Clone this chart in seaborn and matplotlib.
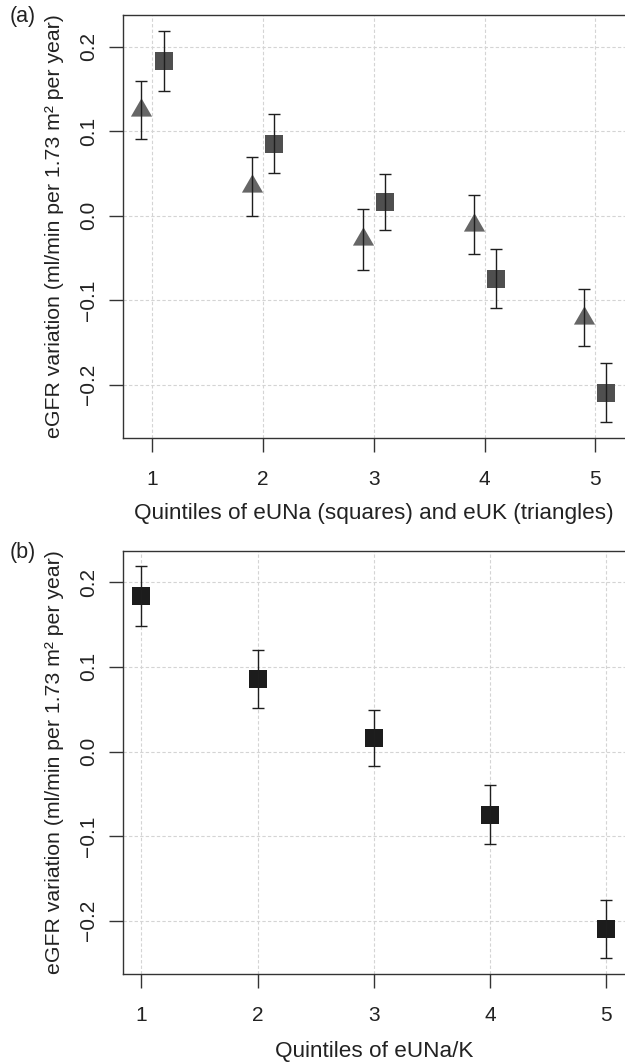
import numpy as np
import pandas as pd
import matplotlib
matplotlib.use("Agg")
import matplotlib.pyplot as plt
from matplotlib.path import Path
import seaborn as sns

# Values (mean and 95% CI of eGFR slope)
quintiles = [1, 2, 3, 4, 5]
una_lo = [0.148, 0.051, -0.017, -0.109, -0.2445]
una_hi = [0.219, 0.120, 0.049, -0.040, -0.175]
uk_lo = [0.091, 0.000, -0.064, -0.045, -0.1546]
uk_hi = [0.160, 0.070, 0.0076, 0.024, -0.087]
ratio_lo = [0.148, 0.051, -0.017, -0.109, -0.2445]
ratio_hi = [0.219, 0.120, 0.049, -0.040, -0.175]
ytick_vals = [-0.2, -0.1, 0.0, 0.1, 0.2]
ytick_labels = ["\u22120.2", "\u22120.1", "0.0", "0.1", "0.2"]

ylab = "eGFR variation (ml/min per 1.73 m\u00b2 per year)"

sns.set_style("white")
plt.rcParams["font.family"] = ["Liberation Sans", "DejaVu Sans"]


def frame(lo, hi, x):
    d = pd.DataFrame({"x": x, "lo": lo, "hi": hi})
    d["mid"] = (d["lo"] + d["hi"]) / 2
    d["err"] = (d["hi"] - d["lo"]) / 2
    return d


q = np.array(quintiles, dtype=float)
df_una = frame(una_lo, una_hi, q + 0.1)
df_uk = frame(uk_lo, uk_hi, q - 0.1)
df_ratio = frame(ratio_lo, ratio_hi, q)

tri = Path([(0, 1), (-0.866, -0.5), (0.866, -0.5), (0, 1)],
           [Path.MOVETO, Path.LINETO, Path.LINETO, Path.CLOSEPOLY])

W, H = 625, 1063
fig = plt.figure(figsize=(W / 100, H / 100), dpi=100)
left = 122.8
ax_a = fig.add_axes([left / W, 1 - 437.7 / H, 1 - left / W, (437.7 - 15.3) / H])
ax_b = fig.add_axes([left / W, 1 - 974 / H, 1 - left / W, (974 - 550.7) / H])


def points(ax, d, marker, size, color):
    sns.scatterplot(data=d, x="x", y="mid", marker=marker, s=size, color=color,
                    linewidth=0, ax=ax, zorder=3)
    ax.errorbar(d["x"], d["mid"], yerr=d["err"], fmt="none", ecolor="#1e1e1e",
                elinewidth=1.0, capsize=4, capthick=1.0, zorder=4)


points(ax_a, df_uk, tri, 310, "#666666")
points(ax_a, df_una, "s", 150, "#4f4f4f")
points(ax_b, df_ratio, "s", 150, "#1c1c1c")

for ax, xl, lab, ypos in [
    (ax_a, (0.732, 5.268), "Quintiles of eUNa (squares) and eUK (triangles)", -0.179),
    (ax_b, (0.84, 5.16), "Quintiles of eUNa/K", -0.1836),
]:
    ax.set_xlim(*xl)
    ax.set_ylim(-0.263, 0.2374)
    ax.set_xticks(quintiles)
    ax.set_xticklabels([str(v) for v in quintiles])
    ax.set_yticks(ytick_vals)
    ax.set_yticklabels(ytick_labels, rotation=90, va="center")
    ax.grid(True, color="#d4d4d4", linestyle=(0, (3, 2)), linewidth=0.8)
    ax.set_axisbelow(True)
    for s in ["left", "top", "bottom"]:
        ax.spines[s].set_color("#333333")
        ax.spines[s].set_linewidth(1.0)
    ax.spines["right"].set_visible(False)
    ax.tick_params(axis="both", direction="out", length=10, width=1.0,
                   color="#333333", labelsize=15, labelcolor="#222222")
    ax.tick_params(axis="y", pad=8, left=True)
    ax.tick_params(axis="x", pad=13, bottom=True)
    ax.set_xlabel(lab, fontsize=16.2, color="#222222", va="center")
    ax.xaxis.set_label_coords(0.5, ypos)
    ax.set_ylabel(ylab, fontsize=15.3, color="#222222", va="center")
    ax.yaxis.set_label_coords((54.8 - left) / (W - left), 0.5)

fig.text(22.5 / W, 1 - 16.7 / H, "(a)", ha="center", va="center", fontsize=15.5, color="#222222")
fig.text(22.5 / W, 1 - 552.3 / H, "(b)", ha="center", va="center", fontsize=15.5, color="#222222")

fig.savefig("out.png", dpi=100)
